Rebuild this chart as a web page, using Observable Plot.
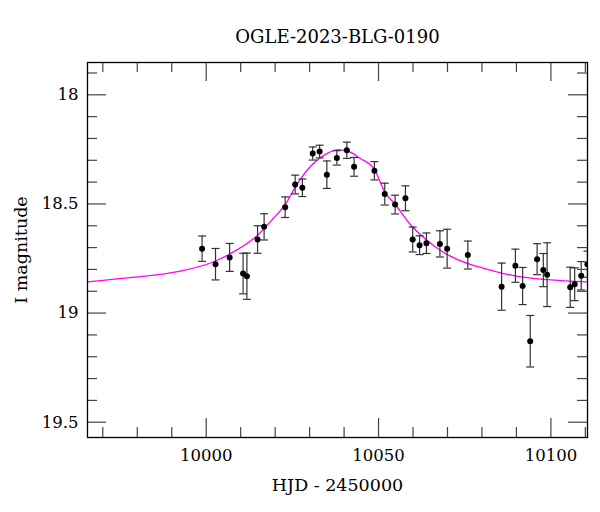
<!DOCTYPE html>
<html>
<head>
<meta charset="utf-8">
<script src="https://cdn.jsdelivr.net/npm/d3@7"></script>
<script src="https://cdn.jsdelivr.net/npm/@observablehq/plot@0.6"></script>
<style>
  html, body { margin: 0; padding: 0; background: #fff; }
</style>
</head>
<body>
<div id="chart"></div>
<script>
const title = "OGLE-2023-BLG-0190";
const xLabel = "HJD - 2450000";
const yLabel = "I magnitude";

// Observations
const days = [9998.8, 10002.7, 10006.8, 10010.7, 10011.8, 10014.9, 10016.8, 10022.9, 10025.8, 10027.9,
  10030.9, 10032.9, 10035.0, 10037.9, 10040.8, 10042.9, 10048.8, 10051.8, 10054.8, 10057.8,
  10059.9, 10061.9, 10063.9, 10067.8, 10069.9, 10075.9, 10085.7, 10089.7, 10091.8, 10094.0,
  10096.0, 10097.8, 10098.9, 10105.6, 10106.9, 10108.8, 10110.6];
const mags = [18.705, 18.776, 18.745, 18.819, 18.831, 18.663, 18.605, 18.515, 18.411, 18.426,
  18.269, 18.260, 18.366, 18.289, 18.254, 18.330, 18.348, 18.455, 18.503, 18.474,
  18.663, 18.689, 18.680, 18.683, 18.705, 18.734, 18.879, 18.783, 18.876, 19.129,
  18.753, 18.803, 18.824, 18.882, 18.868, 18.829, 18.776];
const errs = [0.058, 0.072, 0.064, 0.093, 0.106, 0.063, 0.060, 0.047, 0.043, 0.040,
  0.030, 0.029, 0.063, 0.033, 0.037, 0.043, 0.042, 0.050, 0.043, 0.057,
  0.057, 0.043, 0.047, 0.060, 0.089, 0.064, 0.108, 0.076, 0.085, 0.118,
  0.071, 0.076, 0.146, 0.092, 0.075, 0.065, 0.060];

// Model curve
const modelDays = [9965.5, 9977.9, 9992.5, 10002.0, 10007.0, 10014.8, 10019.4, 10022.9, 10026.4, 10031.0,
  10035.1, 10038.3, 10041.8, 10044.7, 10048.8, 10051.9, 10054.6, 10059.2, 10064.1, 10068.8,
  10076.6, 10079.5, 10089.1, 10099.0, 10110.6];
const modelMags = [18.857, 18.838, 18.808, 18.766, 18.728, 18.645, 18.568, 18.503, 18.408, 18.316,
  18.268, 18.251, 18.263, 18.292, 18.342, 18.448, 18.498, 18.594, 18.667, 18.721,
  18.777, 18.790, 18.828, 18.847, 18.857];

// Ticks
const xMajor = [10000, 10050, 10100];
const xMinor = [9970, 9980, 9990, 10010, 10020, 10030, 10040, 10060, 10070, 10080, 10090, 10110];
const yMajor = [18, 18.5, 19, 19.5];
const yMinor = [17.9, 18.1, 18.2, 18.3, 18.4, 18.6, 18.7, 18.8, 18.9, 19.1, 19.2, 19.3, 19.4];

const obs = days.map((d, i) => ({day: d, mag: mags[i], lo: mags[i] - errs[i], hi: mags[i] + errs[i]}));
const model = modelDays.map((d, i) => ({day: d, mag: modelMags[i]}));

const W = 600, H = 512;
const mL = 87, mR = 13, mT = 62, mB = 75;
const fw = W - mL - mR, fh = H - mT - mB;
const majorLen = 19, minorLen = 10;
const tickColor = "#444";

const capSymbol = {
  draw(ctx, size) {
    const r = Math.sqrt(size / Math.PI);
    ctx.moveTo(-r, 0);
    ctx.lineTo(r, 0);
  }
};

const chart = Plot.plot({
  width: W,
  height: H,
  marginLeft: mL,
  marginRight: mR,
  marginTop: mT,
  marginBottom: mB,
  style: {fontFamily: "DejaVu Serif", fontSize: "16px", color: "#000", background: "#fff"},
  x: {domain: [9965.56, 10110.62], label: null},
  y: {domain: [17.852, 19.570], reverse: true, label: null},
  marks: [
    // model
    Plot.line(model, {x: "day", y: "mag", stroke: "#ff00ff", strokeWidth: 1.3, curve: "monotone-x", clip: true}),
    // error bars
    Plot.ruleX(obs, {x: "day", y1: "lo", y2: "hi", stroke: "#333", strokeWidth: 1.2, clip: true}),
    Plot.dot(obs, {x: "day", y: "lo", symbol: capSymbol, r: 4, stroke: "#333", strokeWidth: 1.2, fill: "none", clip: true}),
    Plot.dot(obs, {x: "day", y: "hi", symbol: capSymbol, r: 4, stroke: "#333", strokeWidth: 1.2, fill: "none", clip: true}),
    Plot.dot(obs, {x: "day", y: "mag", r: 3, fill: "#000", stroke: "none", clip: true}),
    // inner ticks: left/right
    Plot.tickY(yMajor, {y: d => d, insetRight: fw - majorLen, stroke: tickColor, strokeWidth: 1.2}),
    Plot.tickY(yMajor, {y: d => d, insetLeft: fw - majorLen, stroke: tickColor, strokeWidth: 1.2}),
    Plot.tickY(yMinor, {y: d => d, insetRight: fw - minorLen, stroke: tickColor, strokeWidth: 1.2}),
    Plot.tickY(yMinor, {y: d => d, insetLeft: fw - minorLen, stroke: tickColor, strokeWidth: 1.2}),
    // inner ticks: bottom/top
    Plot.tickX(xMajor, {x: d => d, insetTop: fh - majorLen, stroke: tickColor, strokeWidth: 1.2}),
    Plot.tickX(xMajor, {x: d => d, insetBottom: fh - majorLen, stroke: tickColor, strokeWidth: 1.2}),
    Plot.tickX(xMinor, {x: d => d, insetTop: fh - minorLen, stroke: tickColor, strokeWidth: 1.2}),
    Plot.tickX(xMinor, {x: d => d, insetBottom: fh - minorLen, stroke: tickColor, strokeWidth: 1.2}),
    // tick labels
    Plot.axisX({ticks: xMajor, tickSize: 0, tickPadding: 12, tickFormat: d => String(d), label: null, fontSize: 16.5}),
    Plot.axisY({ticks: yMajor, tickSize: 0, tickPadding: 9, tickFormat: d => String(d), label: null, fontSize: 16.5}),
    Plot.frame({stroke: "#000", strokeWidth: 1.3}),
    // title and axis labels
    Plot.text([title], {frameAnchor: "top", lineAnchor: "middle", textAnchor: "middle", dy: -25, text: d => d, fontSize: 18}),
    Plot.text([xLabel], {frameAnchor: "bottom", lineAnchor: "middle", textAnchor: "middle", dy: 48, text: d => d, fontSize: 17.5}),
    Plot.text([yLabel], {frameAnchor: "left", lineAnchor: "middle", textAnchor: "middle", dx: -66, rotate: -90, text: d => d, fontSize: 17.5})
  ]
});

document.getElementById("chart").appendChild(chart);
</script>
</body>
</html>
